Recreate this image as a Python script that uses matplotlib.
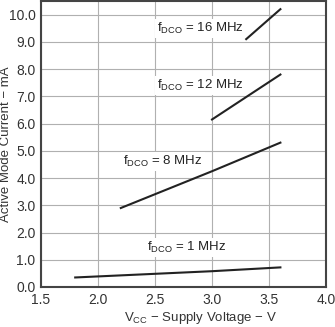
import matplotlib.pyplot as plt

plt.rcParams['font.family'] = ['Liberation Sans', 'DejaVu Sans']

# values
labels = ['16', '12', '8', '1']
vcc = [[3.3, 3.6], [3.0, 3.6], [2.2, 3.0, 3.6], [1.8, 3.0, 3.6]]
current = [[9.1, 10.2], [6.15, 7.8], [2.9, 4.25, 5.3], [0.35, 0.58, 0.72]]
label_pos = [(2.52, 9.5), (2.52, 7.4), (2.22, 4.6), (2.43, 1.45)]

fig = plt.figure(figsize=(3.35, 3.27), dpi=100)
ax = fig.add_axes([41 / 335, 40 / 327, 285 / 335, 286 / 327])

for f, x, y, (tx, ty) in zip(labels, vcc, current, label_pos):
    ax.plot(x, y, color='#222222', lw=1.5, zorder=4)
    ax.text(tx, ty, r'f$_{\mathregular{DCO}}$ = ' + f + ' MHz', fontsize=9.5,
            color='#222222', va='center', zorder=3,
            bbox=dict(facecolor='white', edgecolor='none', pad=1.5))

ax.set_xlim(1.5, 4.0)
ax.set_ylim(0, 10.5)
ax.set_xticks([1.5, 2.0, 2.5, 3.0, 3.5, 4.0])
ax.set_yticks(range(0, 11))
ax.set_xticklabels([f'{v:.1f}' for v in ax.get_xticks()])
ax.set_yticklabels([f'{v:.1f}' for v in range(0, 11)])
ax.grid(True, color='#b0b0b0', lw=0.8)
ax.tick_params(length=0, labelsize=10, colors='#333333', pad=4)
for s in ax.spines.values():
    s.set_color('#444444')
    s.set_linewidth(1.5)

ax.set_xlabel(r'V$_{\mathregular{CC}}$ − Supply Voltage − V', fontsize=9.5, color='#333333')
ax.set_ylabel('Active Mode Current − mA', fontsize=9.5, color='#333333')
ax.xaxis.set_label_coords(0.56, -0.082)
ax.yaxis.set_label_coords(-0.1, 0.5)

fig.savefig('out.png', dpi=100)
